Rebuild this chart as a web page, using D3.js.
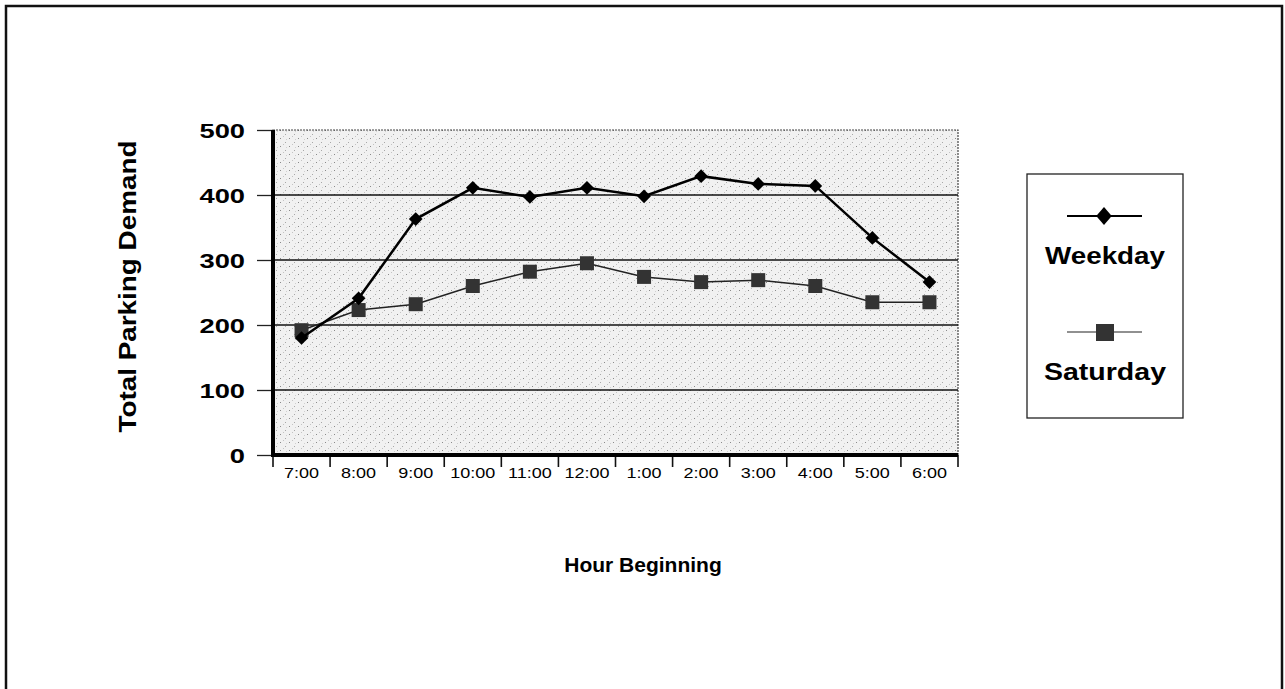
<!DOCTYPE html>
<html>
<head>
<meta charset="utf-8">
<script src="https://cdn.jsdelivr.net/npm/d3@7"></script>
<style>
  body { margin: 0; background: #fff; }
  text { font-family: "Liberation Sans", Arial, sans-serif; fill: #000; }
</style>
</head>
<body>
<script>
var w = 1285;
var h = 689;

var hours = ['7:00', '8:00', '9:00', '10:00', '11:00', '12:00', '1:00', '2:00', '3:00', '4:00', '5:00', '6:00'];
var weekday = [180, 241, 363, 411, 397, 411, 398, 429, 417, 414, 334, 266];
var saturday = [192, 223, 232, 260, 282, 295, 274, 266, 269, 260, 235, 235];
var yTicks = [0, 100, 200, 300, 400, 500];

// plot box (don't call it "top", that's window.top)
var pL = 273, pR = 958, pT = 130, pB = 455;

// the scan is wider than the font, stretch text sideways
var stretch = function(sel, k){
  sel.each(function(){
    var n = this.getComputedTextLength();
    d3.select(this).attr('textLength', n * k).attr('lengthAdjust', 'spacingAndGlyphs');
  });
};

var svg = d3.select('body').append('svg')
    .attr('width', w)
    .attr('height', h);

// outer frame
svg.append('rect')
    .attr('x', 6).attr('y', 6)
    .attr('width', 1276).attr('height', 690)
    .attr('fill', 'none')
    .attr('stroke', '#111')
    .attr('stroke-width', 2.5);

var x = d3.scaleBand().domain(hours).range([pL, pR]);
var y = d3.scaleLinear().domain([0, 500]).range([pB, pT]);

// stipple texture for plot background
var defs = svg.append('defs');
var pat = defs.append('pattern')
    .attr('id', 'stip')
    .attr('width', 9).attr('height', 8)
    .attr('patternUnits', 'userSpaceOnUse');
pat.append('rect').attr('width', 9).attr('height', 8).attr('fill', '#f1f1f1');
pat.append('rect').attr('x', 1).attr('y', 2).attr('width', 1).attr('height', 1).attr('fill', '#8a8a8a');
pat.append('rect').attr('x', 6).attr('y', 6).attr('width', 1).attr('height', 1).attr('fill', '#a8a8a8');
pat.append('rect').attr('x', 4).attr('y', 0).attr('width', 1).attr('height', 1).attr('fill', '#c4c4c4');
pat.append('rect').attr('x', 7).attr('y', 3).attr('width', 1).attr('height', 1).attr('fill', '#d0d0d0');

svg.append('rect')
    .attr('x', pL).attr('y', pT)
    .attr('width', pR - pL).attr('height', pB - pT)
    .attr('fill', 'url(#stip)')
    .attr('stroke', '#444')
    .attr('stroke-width', 1.2)
    .attr('stroke-dasharray', '2,1');

// gridlines
svg.selectAll('.grid').data(yTicks.filter(function(d){ return d > 0 && d < 500; }))
  .enter().append('line')
    .attr('x1', pL).attr('x2', pR)
    .attr('y1', function(d){ return y(d); })
    .attr('y2', function(d){ return y(d); })
    .attr('stroke', '#111')
    .attr('stroke-width', 1.4);

// y axis
var yAxis = svg.append('g')
    .attr('transform', 'translate(' + pL + ',0)')
    .call(d3.axisLeft(y).tickValues(yTicks).tickSize(16).tickPadding(12));
yAxis.select('.domain').remove();
yAxis.selectAll('.tick line').attr('stroke', '#222').attr('stroke-width', 1.3);
yAxis.selectAll('text')
    .style('font-family', '"Liberation Sans", Arial, sans-serif')
    .style('font-size', '21px')
    .style('font-weight', 'bold')
    .attr('fill', '#000')
    .attr('dy', '0.36em')
    .call(stretch, 1.3);

// x axis, ticks at band edges
var edges = hours.map(function(d){ return x(d); }).concat([pR]);
svg.selectAll('.xtick').data(edges)
  .enter().append('line')
    .attr('x1', function(d){ return d; })
    .attr('x2', function(d){ return d; })
    .attr('y1', pB)
    .attr('y2', pB + 12)
    .attr('stroke', '#111')
    .attr('stroke-width', 1.6);

svg.selectAll('.xlab').data(hours)
  .enter().append('text')
    .attr('x', function(d){ return x(d) + x.bandwidth() / 2; })
    .attr('y', pB + 23)
    .attr('text-anchor', 'middle')
    .style('font-size', '15px')
    .text(function(d){ return d; })
    .call(stretch, 1.2);

// axis lines
svg.append('line')
    .attr('x1', pL).attr('x2', pL)
    .attr('y1', pT).attr('y2', pB + 2)
    .attr('stroke', '#000').attr('stroke-width', 4);
svg.append('line')
    .attr('x1', pL - 2).attr('x2', pR)
    .attr('y1', pB).attr('y2', pB)
    .attr('stroke', '#000').attr('stroke-width', 4);

var cx = function(d, i){ return x(hours[i]) + x.bandwidth() / 2; };

var line = d3.line()
    .x(function(d, i){ return cx(d, i); })
    .y(function(d){ return y(d); });

// saturday series
svg.append('path')
    .attr('d', line(saturday))
    .attr('fill', 'none')
    .attr('stroke', '#222')
    .attr('stroke-width', 1.5);
svg.selectAll('.sat').data(saturday)
  .enter().append('rect')
    .attr('x', function(d, i){ return cx(d, i) - 7; })
    .attr('y', function(d){ return y(d) - 7; })
    .attr('width', 14).attr('height', 14)
    .attr('fill', '#333');

// weekday series
svg.append('path')
    .attr('d', line(weekday))
    .attr('fill', 'none')
    .attr('stroke', '#000')
    .attr('stroke-width', 2.5);
var diamond = d3.symbol().type(d3.symbolDiamond2).size(120);
svg.selectAll('.wk').data(weekday)
  .enter().append('path')
    .attr('d', diamond)
    .attr('transform', function(d, i){ return 'translate(' + cx(d, i) + ',' + y(d) + ')'; })
    .attr('fill', '#000');

// axis titles
svg.append('text')
    .attr('transform', 'translate(136,' + ((pT + pB) / 2 - 6) + ') rotate(-90)')
    .attr('text-anchor', 'middle')
    .style('font-size', '23px')
    .style('font-weight', 'bold')
    .attr('textLength', 292)
    .attr('lengthAdjust', 'spacingAndGlyphs')
    .text('Total Parking Demand');

svg.append('text')
    .attr('x', 643)
    .attr('y', 572)
    .attr('text-anchor', 'middle')
    .style('font-size', '21px')
    .style('font-weight', 'bold')
    .text('Hour Beginning');

// legend
var lg = svg.append('g');
lg.append('rect')
    .attr('x', 1027).attr('y', 174)
    .attr('width', 156).attr('height', 244)
    .attr('fill', '#fff')
    .attr('stroke', '#222')
    .attr('stroke-width', 1.3);

lg.append('line')
    .attr('x1', 1067).attr('x2', 1142).attr('y1', 216).attr('y2', 216)
    .attr('stroke', '#000').attr('stroke-width', 2);
lg.append('path')
    .attr('d', d3.symbol().type(d3.symbolDiamond2).size(170))
    .attr('transform', 'translate(1104,216) scale(0.95,1.1)')
    .attr('fill', '#000');
lg.append('text')
    .attr('x', 1105).attr('y', 264)
    .attr('text-anchor', 'middle')
    .style('font-size', '23px')
    .style('font-weight', 'bold')
    .attr('textLength', 120)
    .attr('lengthAdjust', 'spacingAndGlyphs')
    .text('Weekday');

lg.append('line')
    .attr('x1', 1067).attr('x2', 1142).attr('y1', 332).attr('y2', 332)
    .attr('stroke', '#222').attr('stroke-width', 1.2);
lg.append('rect')
    .attr('x', 1096).attr('y', 324)
    .attr('width', 18).attr('height', 17)
    .attr('fill', '#333');
lg.append('text')
    .attr('x', 1105).attr('y', 380)
    .attr('text-anchor', 'middle')
    .style('font-size', '23px')
    .style('font-weight', 'bold')
    .attr('textLength', 122)
    .attr('lengthAdjust', 'spacingAndGlyphs')
    .text('Saturday');
</script>
</body>
</html>
